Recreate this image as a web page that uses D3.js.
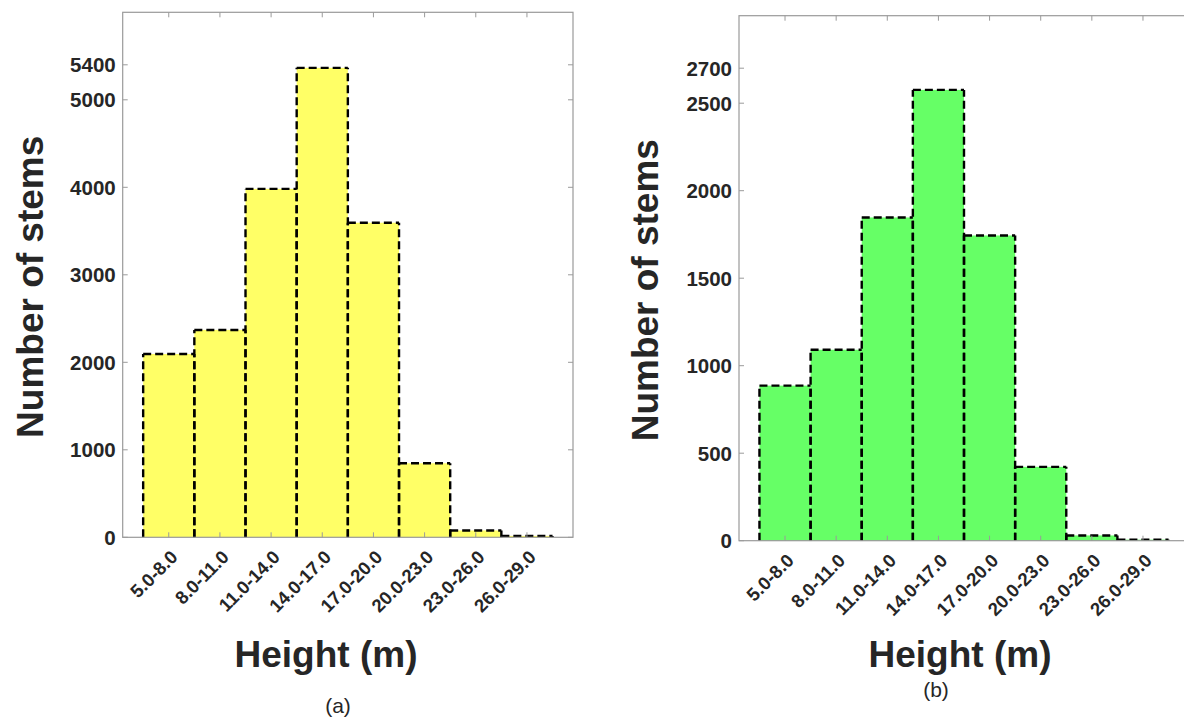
<!DOCTYPE html>
<html lang="en">
<head>
    <meta charset="utf-8">
    <title>Number of stems by height class</title>
    <style>
        body { margin: 0; background: #fff; }
        text { font-family: "Liberation Sans", Arial, sans-serif; fill: #262626; }
    </style>
</head>
<body>
    <script src="https://cdnjs.cloudflare.com/ajax/libs/d3/7.9.0/d3.min.js"></script>
    <script>

    // height classes (m)
    const bins = ["5.0-8.0", "8.0-11.0", "11.0-14.0", "14.0-17.0", "17.0-20.0", "20.0-23.0", "23.0-26.0", "26.0-29.0"];

    // panel (a)
    const stemsA = [2095, 2370, 3982, 5365, 3595, 846, 78, 16];
    const ticksA = [0, 1000, 2000, 3000, 4000, 5000, 5400];
    const maxA = 6000;

    // panel (b)
    const stemsB = [886, 1091, 1847, 2576, 1744, 422, 30, 6];
    const ticksB = [0, 500, 1000, 1500, 2000, 2500, 2700];
    const maxB = 3000;

    const width = 1184;
    const height = 717;

    const svg = d3.select("body")
        .append("svg")
        .attr("width", width)
        .attr("height", height);

    const axisColor = "#9a9a9a";

    function panel(opts) {
        const x = d3.scaleBand()
            .domain(bins)
            .range([opts.left, opts.right])
            .paddingInner(0)
            .paddingOuter(0.4);

        const y = d3.scaleLinear()
            .domain([0, opts.max])
            .range([opts.bottom, opts.top]);

        const g = svg.append("g");

        // bars
        g.selectAll(".bar")
            .data(opts.values)
            .enter()
            .append("rect")
            .attr("x", (d, i) => x(bins[i]))
            .attr("y", d => y(d))
            .attr("width", x.bandwidth())
            .attr("height", d => y(0) - y(d))
            .attr("fill", opts.color);

        // dashed outline, each side its own subpath so shared edges line up
        g.selectAll(".edge")
            .data(opts.values)
            .enter()
            .append("path")
            .attr("d", (d, i) => {
                const x0 = x(bins[i]), x1 = x0 + x.bandwidth();
                return `M${x0},${y(0)}V${y(d)}M${x0},${y(d)}H${x1}M${x1},${y(0)}V${y(d)}`;
            })
            .attr("fill", "none")
            .attr("stroke", "#000")
            .attr("stroke-width", 2.4)
            .attr("stroke-dasharray", "8,4");

        // box
        g.append("rect")
            .attr("x", opts.left)
            .attr("y", opts.top)
            .attr("width", opts.right - opts.left)
            .attr("height", opts.bottom - opts.top)
            .attr("fill", "none")
            .attr("stroke", axisColor)
            .attr("stroke-width", 1.2);

        // inward ticks on all sides
        const tl = 5;
        bins.forEach(b => {
            const cx = x(b) + x.bandwidth() / 2;
            g.append("line").attr("x1", cx).attr("x2", cx).attr("y1", opts.bottom).attr("y2", opts.bottom - tl)
                .attr("stroke", axisColor);
            g.append("line").attr("x1", cx).attr("x2", cx).attr("y1", opts.top).attr("y2", opts.top + tl)
                .attr("stroke", axisColor);
        });
        opts.ticks.forEach(t => {
            g.append("line").attr("x1", opts.left).attr("x2", opts.left + tl).attr("y1", y(t)).attr("y2", y(t))
                .attr("stroke", axisColor);
            g.append("line").attr("x1", opts.right).attr("x2", opts.right - tl).attr("y1", y(t)).attr("y2", y(t))
                .attr("stroke", axisColor);
        });

        // y tick labels
        g.selectAll(".ylab")
            .data(opts.ticks)
            .enter()
            .append("text")
            .attr("x", opts.left - 7)
            .attr("y", d => y(d))
            .attr("dy", "0.36em")
            .attr("text-anchor", "end")
            .style("font-size", "20.5px")
            .style("font-weight", "bold")
            .text(d => d);

        // x tick labels, rotated
        g.selectAll(".xlab")
            .data(bins)
            .enter()
            .append("text")
            .attr("transform", d => `translate(${x(d) + x.bandwidth() / 2 + 10},${opts.bottom + 21}) rotate(-45)`)
            .attr("text-anchor", "end")
            .style("font-size", "18.5px")
            .style("font-weight", "bold")
            .text(d => d);

        // axis titles
        g.append("text")
            .attr("transform", `translate(${opts.ytitleX},${(opts.top + opts.bottom) / 2 + 12}) rotate(-90)`)
            .attr("text-anchor", "middle")
            .style("font-size", "37px")
            .style("font-weight", "bold")
            .text("Number of stems");

        g.append("text")
            .attr("x", opts.xtitleX)
            .attr("y", 667)
            .attr("text-anchor", "middle")
            .style("font-size", "37px")
            .style("font-weight", "bold")
            .text("Height (m)");

        g.append("text")
            .attr("x", opts.labelX)
            .attr("y", opts.labelY)
            .attr("text-anchor", "middle")
            .style("font-size", "21px")
            .text(opts.label);
    }

    panel({
        values: stemsA, ticks: ticksA, max: maxA, color: "#ffff66",
        left: 122.7, right: 573, top: 12.3, bottom: 537.3,
        ytitleX: 43, xtitleX: 326, labelX: 338, labelY: 713, label: "(a)"
    });

    panel({
        values: stemsB, ticks: ticksB, max: maxB, color: "#66ff66",
        left: 739, right: 1189, top: 15.7, bottom: 540.7,
        ytitleX: 658, xtitleX: 960, labelX: 936, labelY: 697, label: "(b)"
    });

    </script>
</body>
</html>
